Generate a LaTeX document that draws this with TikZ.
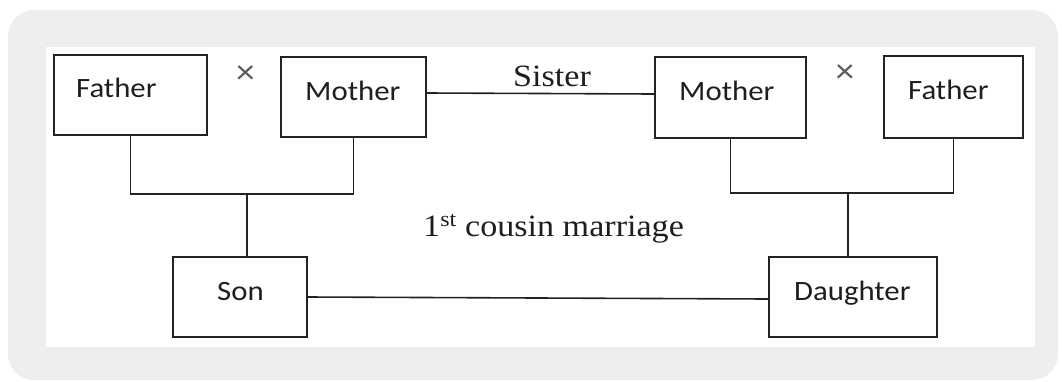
\documentclass[tikz,border=0pt]{standalone}
\usepackage{fontspec}
\newfontfamily\boxfont[FakeStretch=1.1]{Carlito}
\newfontfamily\serfont[FakeStretch=1.1]{Liberation Serif}
\definecolor{panelgray}{HTML}{EEEEEE}
\definecolor{inkline}{HTML}{222222}
\definecolor{inktext}{HTML}{1E1E1E}
\definecolor{crossgray}{HTML}{5A5A5A}
\begin{document}
\begin{tikzpicture}[x=1pt,y=-1pt,
  member/.style={draw=inkline, line width=1.8pt, fill=white, inner sep=0pt},
  boxlabel/.style={inner sep=0pt, anchor=base west, text=inktext,
    font=\boxfont\fontsize{28}{34}\selectfont},
  serlabel/.style={inner sep=0pt, anchor=base west, text=inktext,
    font=\serfont\fontsize{31}{36}\selectfont},
  crossmark/.style={inner sep=0pt, text=crossgray,
    font=\boxfont\fontsize{34}{36}\selectfont},
  link/.style={draw=inkline, line width=1.6pt}]
\useasboundingbox (0,0) rectangle (1062,381);
% panel and white card
\fill[panelgray, rounded corners=26pt] (8,10) rectangle (1058,380);
\fill[white] (46,47) rectangle (1035,347);

% family members
\node[member, minimum width=153pt, minimum height=80pt] (f1) at (130.5,95) {};
\node[member, minimum width=145pt, minimum height=80pt] (m1) at (353.5,97) {};
\node[member, minimum width=151pt, minimum height=81pt] (m2) at (730.5,97.5) {};
\node[member, minimum width=139pt, minimum height=82pt] (f2) at (953.5,97) {};
\node[member, minimum width=134pt, minimum height=80pt] (son) at (240,297) {};
\node[member, minimum width=168pt, minimum height=80pt] (dau) at (853,297) {};

\node[boxlabel] (f1t) at (76,97) {Father};
\node[boxlabel] (m1t) at (305,100) {Mother};
\node[boxlabel] (m2t) at (679,100) {Mother};
\node[boxlabel] (f2t) at (908,99) {Father};
\node[boxlabel] (sont) at (217,300) {Son};
\node[boxlabel] (daut) at (794,300) {Daughter};

% marriage signs
\node[crossmark] (x1) at (245.5,75) {×};
\node[crossmark] (x2) at (845,74) {×};

% relation labels
\node[serlabel] (sis) at (513,86) {Sister};
\node[serlabel] (cous) at (423,236) {1\textsuperscript{st} cousin marriage};

% junction points of the parent brackets
\coordinate (lj) at (247,194);
\coordinate (rj) at (848,193);

% sisters
\draw[link] ([yshift=4pt]m1.east) -- ([yshift=3.5pt]m2.west);
% left parents to son
\draw[link] (f1.south) -- (f1.south |- lj) -- (m1.south |- lj) -- (m1.south);
\draw[link] (lj) -- (lj |- son.north);
% right parents to daughter
\draw[link] (m2.south) -- (m2.south |- rj) -- (f2.south |- rj) -- (f2.south);
\draw[link] (rj) -- (rj |- dau.north);
% cousins' marriage
\draw[link] (son.east) -- ([yshift=-2pt]dau.west);
\end{tikzpicture}
\end{document}
